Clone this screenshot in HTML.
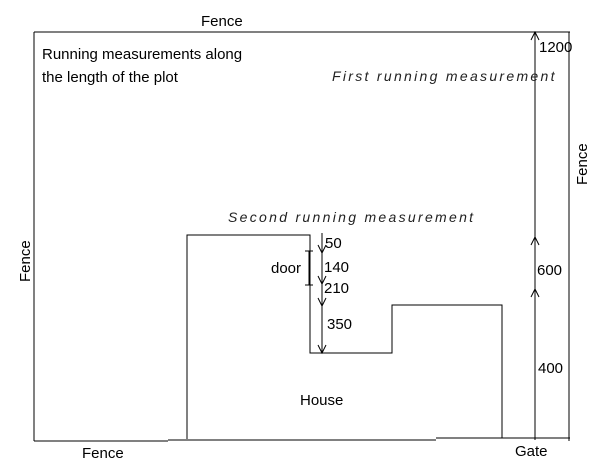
<!DOCTYPE html>
<html><head><style>
html,body{margin:0;padding:0;background:#fff;width:605px;height:472px;overflow:hidden}
svg{display:block}
text{font-family:"Liberation Sans",Arial,sans-serif;font-size:15px;fill:#000}
.it{font-style:italic;font-size:14px;letter-spacing:2.3px;fill:#222}
</style></head><body>
<svg width="605" height="472" viewBox="0 0 605 472">
<g stroke="#000" stroke-width="1" fill="none" shape-rendering="crispEdges">
<line x1="34" y1="32" x2="570" y2="32"/>
<line x1="34" y1="32" x2="34" y2="441"/>
<line x1="569" y1="32" x2="569" y2="441"/>
<line x1="34" y1="441" x2="168" y2="441"/>
<line x1="168" y1="440" x2="436" y2="440"/>
<line x1="436" y1="438" x2="570" y2="438"/>
<polyline points="187,439 187,235 310,235 310,353 392,353 392,305 502,305 502,438"/>
<line x1="535" y1="32" x2="535" y2="440"/>
<line x1="322" y1="233" x2="322" y2="353"/>
<line x1="309" y1="251" x2="309" y2="285"/>
<line x1="305" y1="251" x2="313" y2="251"/>
<line x1="305" y1="285" x2="313" y2="285"/>
</g>
<g stroke="#000" stroke-width="1" fill="none">
<polyline points="531,40 535,32 539,40"/>
<polyline points="531,245 535,237 539,245"/>
<polyline points="531,297 535,289 539,297"/>
<polyline points="318,245 322,253 326,245"/>
<polyline points="318,276 322,284 326,276"/>
<polyline points="318,298 322,306 326,298"/>
<polyline points="318,345 322,353 326,345"/>
</g>
<text x="201" y="26">Fence</text>
<text x="42" y="59">Running measurements along</text>
<text x="42" y="82">the length of the plot</text>
<text class="it" x="332" y="81">First running measurement</text>
<text class="it" x="228" y="222">Second running measurement</text>
<text x="539" y="52">1200</text>
<text x="537" y="275">600</text>
<text x="538" y="373">400</text>
<text x="325" y="248">50</text>
<text x="324" y="272">140</text>
<text x="324" y="293">210</text>
<text x="327" y="329">350</text>
<text x="271" y="273">door</text>
<text x="300" y="405">House</text>
<text x="82" y="458">Fence</text>
<text x="515" y="456">Gate</text>
<text transform="translate(30,282) rotate(-90)">Fence</text>
<text transform="translate(587,185) rotate(-90)">Fence</text>
</svg>
</body></html>
